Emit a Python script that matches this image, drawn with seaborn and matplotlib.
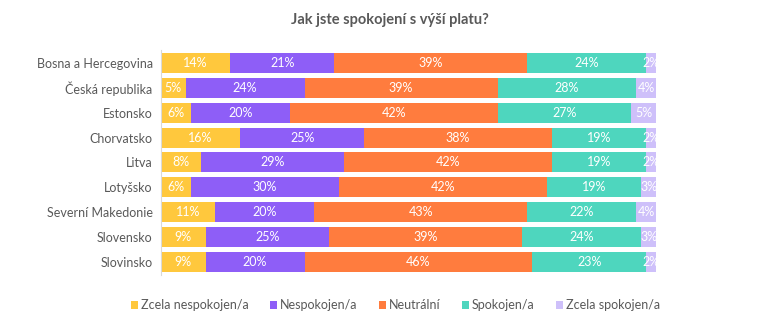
import matplotlib
matplotlib.use("Agg")
import matplotlib.pyplot as plt
import seaborn as sns
import numpy as np
import pandas as pd
from matplotlib.patches import Patch

countries = ["Bosna a Hercegovina", "Česká republika", "Estonsko", "Chorvatsko", "Litva",
             "Lotyšsko", "Severní Makedonie", "Slovensko", "Slovinsko"]
series_names = ["Zcela nespokojen/a", "Nespokojen/a", "Neutrální", "Spokojen/a", "Zcela spokojen/a"]
zcela_nespokojen = [14, 5, 6, 16, 8, 6, 11, 9, 9]
nespokojen = [21, 24, 20, 25, 29, 30, 20, 25, 20]
neutralni = [39, 39, 42, 38, 42, 42, 43, 39, 46]
spokojen = [24, 28, 27, 19, 19, 19, 22, 24, 23]
zcela_spokojen = [2, 4, 5, 2, 2, 3, 4, 3, 2]
colors = ["#FFC83D", "#8E5EF7", "#FF7C3E", "#4ED6BE", "#CEC0FA"]

series = [zcela_nespokojen, nespokojen, neutralni, spokojen, zcela_spokojen]

sns.set_theme(style="white")
plt.rcParams['font.family'] = ['Lato', 'DejaVu Sans']

fig = plt.figure(figsize=(7.72, 3.36), dpi=100)
ax = fig.add_axes([0.2085, 0.183, 0.6415, 0.667])

df = pd.DataFrame({"country": countries})
cum = np.cumsum(np.array(series, dtype=float), axis=0)
for i in range(len(series) - 1, -1, -1):
    df["v"] = cum[i]
    sns.barplot(data=df, x="v", y="country", orient="h", color=colors[i],
                saturation=1, width=0.8, ax=ax, linewidth=0)

for i, vals in enumerate(series):
    starts = cum[i] - np.array(vals)
    for j, v in enumerate(vals):
        ax.text(starts[j] + v / 2, j, f"{v}%", ha="center", va="center",
                color="white", fontsize=9, clip_on=True)

ax.set_xlim(0, 100)
ax.set_ylim(8.5, -0.5)
ax.set_xlabel("")
ax.set_ylabel("")
ax.set_xticks([])
ax.tick_params(axis="y", length=0, pad=6, labelsize=9, labelcolor="#595959")
for s in ["top", "right", "bottom"]:
    ax.spines[s].set_visible(False)
ax.spines["left"].set_color("#D9D9D9")
ax.spines["left"].set_linewidth(0.8)

fig.text(0.505, 0.94, "Jak jste spokojení s výší platu?", ha="center", va="center",
         fontsize=10.5, fontweight="bold", color="#595959")

handles = [Patch(facecolor=c, edgecolor="none", label=n) for c, n in zip(colors, series_names)]
fig.legend(handles=handles, loc="center", bbox_to_anchor=(0.512, 0.092), ncol=5,
           frameon=False, fontsize=9, handlelength=0.6, handleheight=0.6,
           handletextpad=0.2, columnspacing=1.7, labelcolor="#595959")

fig.savefig("out.png", dpi=100)
